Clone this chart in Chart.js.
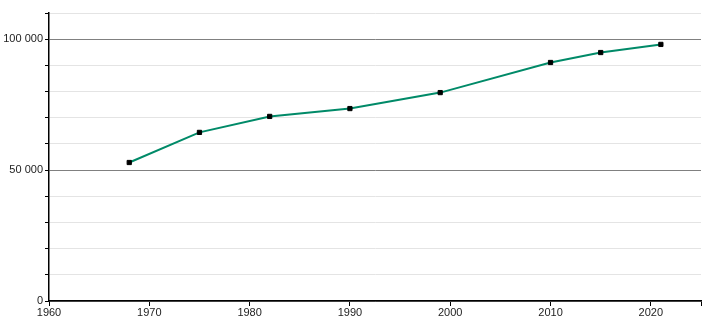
<!DOCTYPE html>
<html>
<head>
<meta charset="utf-8">
<script src="https://cdn.jsdelivr.net/npm/chart.js@4"></script>
<style>
  html, body { margin: 0; padding: 0; background: #fff; }
  #wrap { width: 710px; height: 320px; }
</style>
</head>
<body>
<div id="wrap"><canvas id="popChart" width="710" height="320"></canvas></div>
<script>
// Data
const years = [1968, 1975, 1982, 1990, 1999, 2010, 2015, 2021];
const population = [52900, 64400, 70500, 73500, 79600, 91100, 94900, 98000];
const yMajorTicks = [0, 50000, 100000];

const points = years.map((yr, i) => ({ x: yr, y: population[i] }));

// format like "100 000"
function fmt(v) {
  return String(v).replace(/\B(?=(\d{3})+(?!\d))/g, " ");
}

const ctx = document.getElementById("popChart").getContext("2d");
new Chart(ctx, {
  type: "line",
  data: {
    datasets: [
      {
        data: points,
        borderColor: "#008a68",
        borderWidth: 2,
        tension: 0,
        pointStyle: "rect",
        pointRadius: 3,
        pointBorderWidth: 1,
        pointBackgroundColor: "#000",
        pointBorderColor: "#000",
      },
    ],
  },
  options: {
    responsive: false,
    animation: false,
    layout: { padding: { top: 13, right: 9, left: 0, bottom: 0 } },
    plugins: { legend: { display: false }, tooltip: { enabled: false } },
    scales: {
      x: {
        type: "linear",
        min: 1960,
        max: 2025,
        afterFit: (scale) => { scale.height = 19; },
        ticks: {
          stepSize: 10,
          color: "#222",
          padding: 0,
          maxRotation: 0,
          font: { family: "'Liberation Sans Narrow', 'Liberation Sans', Arial", size: 11 },
          callback: (v) => (v % 10 === 0 ? String(v) : ""),
        },
        grid: {
          drawOnChartArea: false,
          tickLength: 5,
          tickColor: "#000",
          tickWidth: 1,
        },
        border: { color: "#000", width: 1.5 },
      },
      y: {
        min: 0,
        max: 110000,
        afterFit: (scale) => { scale.width = 49; },
        ticks: {
          stepSize: 10000,
          color: "#222",
          padding: 2,
          font: { family: "'Liberation Sans Narrow', 'Liberation Sans', Arial", size: 11 },
          callback: (v) => (yMajorTicks.includes(v) ? fmt(v) : ""),
        },
        grid: {
          color: (c) => (c.tick && c.tick.value % 50000 === 0 ? "#808080" : "#e4e4e4"),
          lineWidth: 1,
          tickLength: 4,
          tickColor: "#000",
        },
        border: { color: "#000", width: 1.5 },
      },
    },
  },
});
</script>
</body>
</html>
